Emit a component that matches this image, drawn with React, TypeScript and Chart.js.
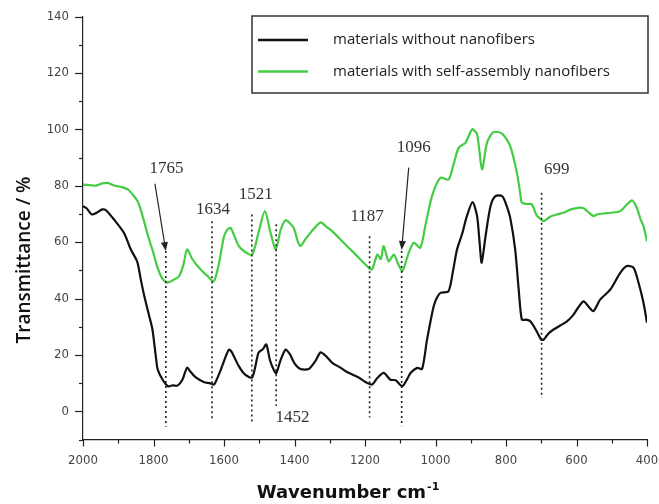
import { useEffect, useRef } from 'react';
import { Chart, registerables } from 'chart.js';
Chart.register(...registerables);

const SERIES_NAMES = ['materials without nanofibers', 'materials with self-assembly nanofibers'];

const WAVE_BLACK = [2000, 1990, 1975, 1960, 1945, 1935, 1912, 1884, 1864, 1846, 1836, 1826, 1812, 1803, 1793, 1788, 1774, 1759, 1745, 1732, 1718, 1710, 1704, 1695, 1680, 1656, 1640, 1628, 1609, 1595, 1586, 1578, 1558, 1540, 1520, 1502, 1490, 1480, 1470, 1460, 1452, 1440, 1425, 1412, 1400, 1383, 1360, 1340, 1326, 1310, 1293, 1270, 1255, 1235, 1218, 1200, 1180, 1165, 1147, 1128, 1113, 1094, 1080, 1071, 1052, 1038, 1024, 1005, 995, 986, 963, 950, 939, 925, 911, 895, 882, 875, 869, 858, 844, 830, 811, 800, 788, 774, 764, 755, 743, 731, 713, 700, 693, 680, 665, 645, 627, 610, 599, 580, 565, 552, 533, 504, 476, 457, 438, 424, 410, 400];
const T_BLACK = [72.7, 72, 69.8, 70.5, 71.6, 71.3, 68, 63.3, 57.3, 53, 46.7, 40.8, 33.7, 29, 19, 14.8, 11.2, 8.9, 9.2, 9.1, 11.2, 14, 15.5, 14, 12, 10.3, 10, 9.5, 14.8, 19.5, 21.9, 21, 16, 13, 12, 20.8, 22, 23.7, 18.3, 15, 13.5, 18, 21.9, 20, 17, 15, 15, 18, 20.9, 19.5, 17.2, 15.5, 14.2, 13, 12, 10.5, 9.5, 11.8, 13.6, 11.2, 11, 8.9, 11.5, 13.6, 15.4, 15, 25.4, 37.3, 40.5, 42, 42.6, 50, 57.4, 62.7, 69.2, 74.2, 69.2, 60, 52.7, 62.1, 72.7, 76.3, 76.3, 73.5, 68.6, 57.4, 43.2, 32.5, 32.5, 31.9, 28.4, 25.4, 25.4, 27.5, 29, 30.5, 31.9, 34, 36.1, 39, 37, 35.5, 39.6, 43.2, 49.1, 51.5, 50.9, 45.6, 38.5, 31.4];

const WAVE_GREEN = [2000, 1980, 1965, 1945, 1930, 1910, 1890, 1873, 1860, 1845, 1835, 1826, 1815, 1800, 1790, 1775, 1760, 1745, 1728, 1715, 1705, 1690, 1675, 1660, 1647, 1629, 1615, 1600, 1590, 1581, 1570, 1558, 1540, 1520, 1502, 1484, 1468, 1453, 1439, 1425, 1412, 1402, 1390, 1383, 1369, 1350, 1326, 1310, 1293, 1265, 1236, 1208, 1190, 1180, 1165, 1155, 1147, 1133, 1118, 1105, 1094, 1076, 1062, 1043, 1029, 1010, 986, 963, 950, 934, 915, 896, 882, 868, 854, 836, 811, 788, 769, 760, 755, 740, 727, 713, 700, 693, 675, 656, 635, 618, 590, 580, 565, 552, 542, 520, 504, 476, 443, 429, 418, 410, 400];
const T_GREEN = [80.4, 80.2, 80, 80.8, 81, 80, 79.5, 78.7, 77, 74.5, 71, 67, 62, 56, 51.5, 47, 45.6, 46.5, 47.8, 52, 57.4, 54, 51.5, 49.5, 48, 46.1, 52, 62, 64.5, 65, 62, 58.6, 56.5, 55.6, 63.4, 71, 63.3, 57.4, 64.5, 67.8, 66.5, 65, 60, 58.6, 61, 64, 67, 65.5, 63.9, 60.3, 56.8, 53.2, 51, 50.3, 55.6, 54, 58.6, 53.2, 55.6, 52, 49.7, 56.2, 59.8, 58, 65.7, 76.3, 82.8, 82.2, 87, 93.5, 95.2, 100, 98.2, 85.8, 95.2, 99, 98.5, 94, 84.5, 77.6, 74, 73.5, 73.4, 69.5, 68, 67.4, 69, 69.8, 70.5, 71.5, 72.2, 72, 70.5, 69.2, 69.8, 70.2, 70.4, 71, 74.8, 72.2, 68, 65.7, 60.3];

const Y_TICKS = [0, 20, 40, 60, 80, 100, 120, 140];
const Y_MINOR = [-10, 10, 30, 50, 70, 90, 110, 130];
const X_TICKS = [2000, 1800, 1600, 1400, 1200, 1000, 800, 600, 400];
const X_MINOR = [1900, 1700, 1500, 1300, 1100, 900, 700, 500];

const PEAKS = [1765, 1634, 1521, 1452, 1187, 1096, 699];
const PEAK_TOP = [56.8, 67.4, 69.8, 66.3, 62.1, 56.8, 77.5];
const PEAK_BOTTOM = [-5.5, -3, -4.7, 2, -2.2, -5.3, 4.7];
const PEAK_LABELS = ['1765', '1634', '1521', '1452', '1187', '1096', '699'];
const LABEL_X = [1763, 1631, 1510, 1406, 1194, 1062, 656];
const LABEL_Y = [86.2, 71.6, 76.9, -2.3, 69.2, 93.5, 85.8];

const ARROW_FROM_X = [1796, 1076];
const ARROW_FROM_Y = [80.7, 86.4];
const ARROW_TO_X = [1765, 1096];
const ARROW_TO_Y = [56.8, 57.2];

const BLACK = '#111111';
const GREEN = '#44cc44';

const overlayPlugin = {
  id: 'overlay',
  afterDatasetsDraw(chart: any) {
    const ctx = chart.ctx as CanvasRenderingContext2D;
    const xs = chart.scales.x;
    const ys = chart.scales.y;
    const area = chart.chartArea;
    ctx.save();
    // ticks
    ctx.strokeStyle = '#222';
    ctx.lineWidth = 1.2;
    const yTick = (v: number, len: number) => {
      const p = Math.round(ys.getPixelForValue(v)) + 0.5;
      ctx.beginPath();
      ctx.moveTo(area.left, p);
      ctx.lineTo(area.left - len, p);
      ctx.stroke();
    };
    const xTick = (v: number, len: number) => {
      const p = Math.round(xs.getPixelForValue(v)) + 0.5;
      ctx.beginPath();
      ctx.moveTo(p, area.bottom);
      ctx.lineTo(p, area.bottom + len);
      ctx.stroke();
    };
    Y_TICKS.forEach((v) => yTick(v, 8));
    Y_MINOR.forEach((v) => yTick(v, 4));
    X_TICKS.forEach((v) => xTick(v, 7));
    X_MINOR.forEach((v) => xTick(v, 4));

    // dotted peak lines
    ctx.strokeStyle = '#222';
    ctx.lineWidth = 1.6;
    ctx.setLineDash([2, 3]);
    PEAKS.forEach((w, i) => {
      const px = xs.getPixelForValue(w);
      ctx.beginPath();
      ctx.moveTo(px, ys.getPixelForValue(PEAK_TOP[i]));
      ctx.lineTo(px, ys.getPixelForValue(PEAK_BOTTOM[i]));
      ctx.stroke();
    });
    ctx.setLineDash([]);

    // arrows
    ctx.strokeStyle = '#222';
    ctx.fillStyle = '#222';
    ctx.lineWidth = 1.2;
    ARROW_FROM_X.forEach((fx, i) => {
      const x1 = xs.getPixelForValue(fx);
      const y1 = ys.getPixelForValue(ARROW_FROM_Y[i]);
      const x2 = xs.getPixelForValue(ARROW_TO_X[i]);
      const y2 = ys.getPixelForValue(ARROW_TO_Y[i]);
      const ang = Math.atan2(y2 - y1, x2 - x1);
      const hl = 9, hw = 3.5;
      const bx = x2 - hl * Math.cos(ang);
      const by = y2 - hl * Math.sin(ang);
      ctx.beginPath();
      ctx.moveTo(x1, y1);
      ctx.lineTo(bx, by);
      ctx.stroke();
      ctx.beginPath();
      ctx.moveTo(x2, y2);
      ctx.lineTo(bx + hw * Math.sin(ang), by - hw * Math.cos(ang));
      ctx.lineTo(bx - hw * Math.sin(ang), by + hw * Math.cos(ang));
      ctx.closePath();
      ctx.fill();
    });

    // peak labels
    ctx.fillStyle = '#333';
    ctx.font = '17px "Liberation Serif", serif';
    ctx.textAlign = 'center';
    ctx.textBaseline = 'middle';
    PEAK_LABELS.forEach((t, i) => {
      ctx.fillText(t, xs.getPixelForValue(LABEL_X[i]), ys.getPixelForValue(LABEL_Y[i]));
    });

    // legend
    const lx = 252, ly = 16, lw = 396, lh = 77;
    ctx.fillStyle = '#ffffff';
    ctx.fillRect(lx, ly, lw, lh);
    ctx.strokeStyle = '#333';
    ctx.lineWidth = 1.5;
    ctx.strokeRect(lx, ly, lw, lh);
    const colors = [BLACK, GREEN];
    const rows = [40, 71.5];
    SERIES_NAMES.forEach((name, i) => {
      ctx.strokeStyle = colors[i];
      ctx.lineWidth = 2.5;
      ctx.beginPath();
      ctx.moveTo(258, rows[i]);
      ctx.lineTo(308, rows[i]);
      ctx.stroke();
      ctx.fillStyle = '#222';
      ctx.font = '15px "Open Sans", sans-serif';
      ctx.textAlign = 'left';
      ctx.textBaseline = 'middle';
      ctx.fillText(name, 333, rows[i]);
    });

    // axis titles
    ctx.fillStyle = '#111';
    ctx.save();
    ctx.translate(25, 260);
    ctx.rotate(-Math.PI / 2);
    ctx.font = '600 19px "Open Sans", sans-serif';
    ctx.textAlign = 'center';
    ctx.textBaseline = 'middle';
    ctx.fillText('Transmittance / %', 0, 0);
    ctx.restore();

    const main = 'Wavenumber cm';
    const sup = '-1';
    ctx.font = 'bold 18px "DejaVu Sans", sans-serif';
    const mw = ctx.measureText(main).width;
    ctx.font = 'bold 11px "DejaVu Sans", sans-serif';
    const sw = ctx.measureText(sup).width;
    const startX = 348 - (mw + sw + 1) / 2;
    ctx.textAlign = 'left';
    ctx.textBaseline = 'alphabetic';
    ctx.font = 'bold 18px "DejaVu Sans", sans-serif';
    ctx.fillText(main, startX, 498);
    ctx.font = 'bold 11px "DejaVu Sans", sans-serif';
    ctx.fillText(sup, startX + mw + 1, 490);
    ctx.restore();
  },
};

export default function App() {
  const ref = useRef<HTMLCanvasElement | null>(null);
  useEffect(() => {
    if (!ref.current) return;
    const chart = new Chart(ref.current, {
      type: 'line',
      data: {
        datasets: [
          {
            label: SERIES_NAMES[0],
            data: WAVE_BLACK.map((w, i) => ({ x: w, y: T_BLACK[i] })),
            borderColor: BLACK,
            borderWidth: 2.2,
            pointRadius: 0,
            tension: 0.25,
            fill: false,
          },
          {
            label: SERIES_NAMES[1],
            data: WAVE_GREEN.map((w, i) => ({ x: w, y: T_GREEN[i] })),
            borderColor: GREEN,
            borderWidth: 2.2,
            pointRadius: 0,
            tension: 0.25,
            fill: false,
          },
        ],
      },
      options: {
        responsive: false,
        animation: false,
        events: [],
        layout: { padding: { top: 16.5, right: 12, left: 0, bottom: 0 } },
        plugins: { legend: { display: false }, tooltip: { enabled: false }, title: { display: false } },
        scales: {
          x: {
            type: 'linear',
            reverse: true,
            min: 400,
            max: 2000,
            afterBuildTicks: (scale: any) => {
              scale.ticks = X_TICKS.map((v) => ({ value: v }));
            },
            afterFit: (scale: any) => {
              scale.height = 64.5;
              scale.paddingLeft = 0;
              scale.paddingRight = 0;
            },
            grid: { display: true, drawOnChartArea: false, drawTicks: false },
            border: { display: true, color: '#222', width: 1.2 },
            ticks: {
              padding: 13,
              color: '#444',
              maxRotation: 0,
              autoSkip: false,
              font: { family: '"DejaVu Sans Condensed", "DejaVu Sans", sans-serif', size: 13 },
              callback: (v: any) => String(v),
            },
          },
          y: {
            type: 'linear',
            min: -10,
            max: 140,
            afterBuildTicks: (scale: any) => {
              scale.ticks = Y_TICKS.map((v) => ({ value: v }));
            },
            afterFit: (scale: any) => {
              scale.width = 83;
              scale.paddingTop = 0;
              scale.paddingBottom = 0;
            },
            grid: { display: true, drawOnChartArea: false, drawTicks: false },
            border: { display: true, color: '#222', width: 1.2 },
            ticks: {
              padding: 14,
              color: '#444',
              autoSkip: false,
              font: { family: '"DejaVu Sans Condensed", "DejaVu Sans", sans-serif', size: 13 },
              callback: (v: any) => String(v),
            },
          },
        },
      },
      plugins: [overlayPlugin],
    });
    return () => chart.destroy();
  }, []);
  return (
    <div style={{ position: 'fixed', left: 0, top: 0, width: 659, height: 504, background: '#fff' }}>
      <canvas ref={ref} width={659} height={504} style={{ display: 'block' }} />
    </div>
  );
}
